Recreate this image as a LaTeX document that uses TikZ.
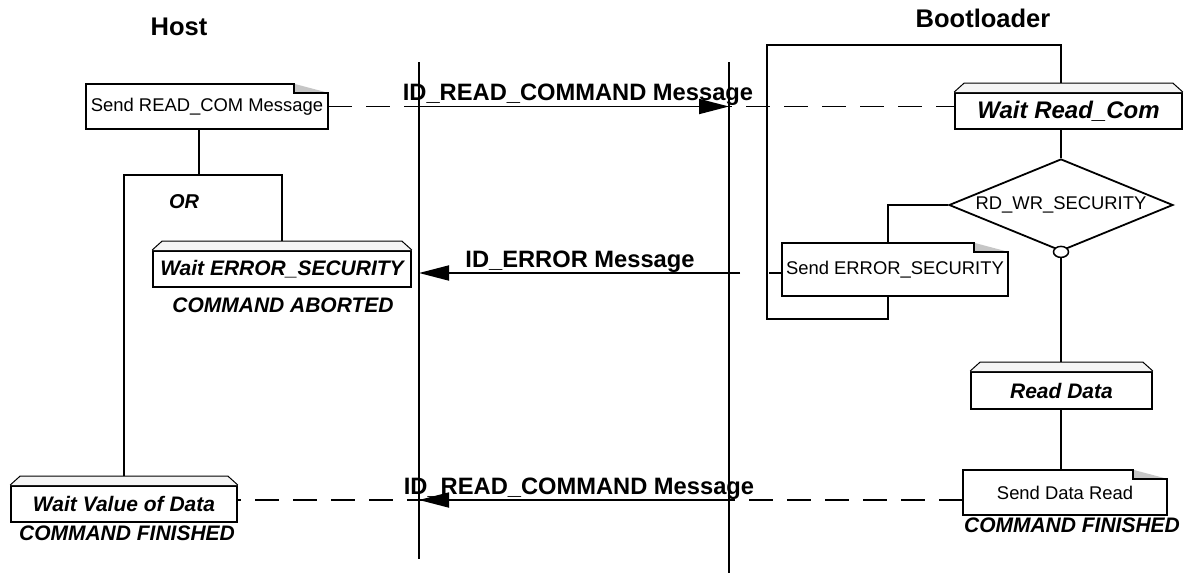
\documentclass[tikz,border=0pt]{standalone}
\usepackage{fontspec}
\setmainfont{Liberation Sans}
\usetikzlibrary{arrows.meta,shapes.geometric,calc}
\newcommand\notefold[1]{%
  \fill[gray!45] ($(#1.north east)+(-34,0)$) -- ++(0,9) -- ($(#1.north east)+(0,9)$) -- cycle;
  \draw[ln] (#1.north west) -- ($(#1.north east)+(-34,0)$) -- ++(0,9) -- ($(#1.north east)+(0,9)$) -- (#1.south east) -- (#1.south west) -- cycle;}
\newcommand\bevelcap[1]{%
  \filldraw[line width=1pt, fill=gray!8] (#1.north west) -- ++(10,-9) -- ($(#1.north east)+(-10,-9)$) -- (#1.north east);}
\begin{document}
\begin{tikzpicture}[x=1pt,y=-1pt,
  ln/.style={line width=1.8pt},
  bevelbox/.style={rectangle, draw, line width=1.8pt, inner sep=0pt, font=\fontsize{21}{24}\selectfont\bfseries\itshape},
  notebox/.style={rectangle, inner sep=0pt, font=\fontsize{18.4}{21}\selectfont},
  msglabel/.style={font=\fontsize{23.7}{26}\selectfont\bfseries, anchor=base, inner sep=0pt},
  biglabel/.style={font=\fontsize{25.5}{28}\selectfont\bfseries, inner sep=0pt},
  italabel/.style={font=\fontsize{21}{24}\selectfont\bfseries\itshape, inner sep=0pt},
  lifeline/.style={line width=1.8pt},
  dashline/.style={line width=1.8pt, dash pattern=on 24pt off 14pt},
  msgarrow/.style={line width=1.8pt, -{Triangle[length=30pt,width=15pt]}},
]
\useasboundingbox (0,0) rectangle (1187,573);

% titles
\node[biglabel] (host) at (179,27) {Host};
\node[biglabel] (boot) at (983,18) {Bootloader};

% lifelines
\coordinate (hl1) at (419,62); \coordinate (hl2) at (419,559);
\coordinate (bl1) at (729,62); \coordinate (bl2) at (729,573);
\draw[lifeline] (hl1) -- (hl2);
\draw[lifeline] (bl1) -- (bl2);

% nodes
\node[notebox, minimum width=242pt, minimum height=45pt] (sendread) at (207,106.5) {Send READ\_COM Message};
\notefold{sendread}
\node[bevelbox, minimum width=227pt, minimum height=36pt, font=\fontsize{24}{26}\selectfont\bfseries\itshape] (waitread) at (1068.5,111) {Wait Read\_Com};
\bevelcap{waitread}
\node[diamond, draw, ln, minimum width=224pt, minimum height=92pt, inner sep=0pt, shape aspect=2.43, font=\fontsize{18.4}{21}\selectfont] (dia) at (1061,205) {RD\_WR\_SECURITY};
\node[notebox, minimum width=226pt, minimum height=53pt] (senderr) at (895,269.5) {Send ERROR\_SECURITY};
\notefold{senderr}
\node[bevelbox, minimum width=258pt, minimum height=36pt] (waiterr) at (282,269) {Wait ERROR\_SECURITY};
\bevelcap{waiterr}
\node[italabel] (aborted) at (283,305) {COMMAND ABORTED};
\node[italabel, font=\fontsize{20}{22}\selectfont\bfseries\itshape] (or) at (184,201.5) {OR};
\node[bevelbox, minimum width=181pt, minimum height=37pt] (readdata) at (1061.5,390.5) {Read Data};
\bevelcap{readdata}
\node[notebox, minimum width=204pt, minimum height=45pt] (senddata) at (1065,492.5) {Send Data Read};
\notefold{senddata}
\node[italabel] (finr) at (1072,525) {COMMAND FINISHED};
\node[bevelbox, minimum width=226pt, minimum height=36pt] (waitval) at (124,504) {Wait Value of Data};
\bevelcap{waitval}
\node[italabel] (finl) at (127,533) {COMMAND FINISHED};

% messages
\draw[dashline] (sendread.east) -- (sendread.east -| waitread.west);
\draw[msgarrow] (sendread.east -| hl1) -- (sendread.east -| bl1);
\node[msglabel] (m1) at (578,100) {ID\_READ\_COMMAND Message};

\coordinate (e0) at (740,273);
\draw[msgarrow] (e0) -- (e0 -| hl1);
\draw[ln] (senderr.west |- e0) -- ++(-13,0);
\node[msglabel] (m2) at (580,267) {ID\_ERROR Message};

\coordinate (r0) at (0,500);
\draw[dashline] (senddata.west |- r0) -- (waitval.east |- r0);
\draw[msgarrow] (bl1 |- r0) -- (hl1 |- r0);
\node[msglabel] (m3) at (579,494) {ID\_READ\_COMMAND Message};

% host connectors
\coordinate (orc) at (199,175);
\draw[ln] (sendread.south -| orc) -- (orc);
\draw[ln] ($(waitval.north)+(0,-9)$) |- (orc) -| ($(waiterr.north)+(0,-9)$);

% bootloader connectors
\coordinate (looptop) at (1061,45);
\coordinate (loopbl) at (767,319);
\coordinate (loopr) at (888,319);
\draw[ln] ($(waitread.north -| dia)+(0,-9)$) -- (looptop) -| (loopbl) -| (senderr.south -| loopr);
\draw[ln] (waitread.south -| dia) -- (dia.north);
\draw[ln] (dia.west) -| (senderr.north -| loopr);
\node[ellipse, draw, line width=1.5pt, fill=white, minimum width=15pt, minimum height=11pt, inner sep=0pt] (dot) at (dia.south) {};
\draw[ln] (dot.south) -- ($(readdata.north -| dia)+(0,-9)$);
\draw[ln] (readdata.south -| dia) -- (senddata.north -| dia);
\end{tikzpicture}
\end{document}
